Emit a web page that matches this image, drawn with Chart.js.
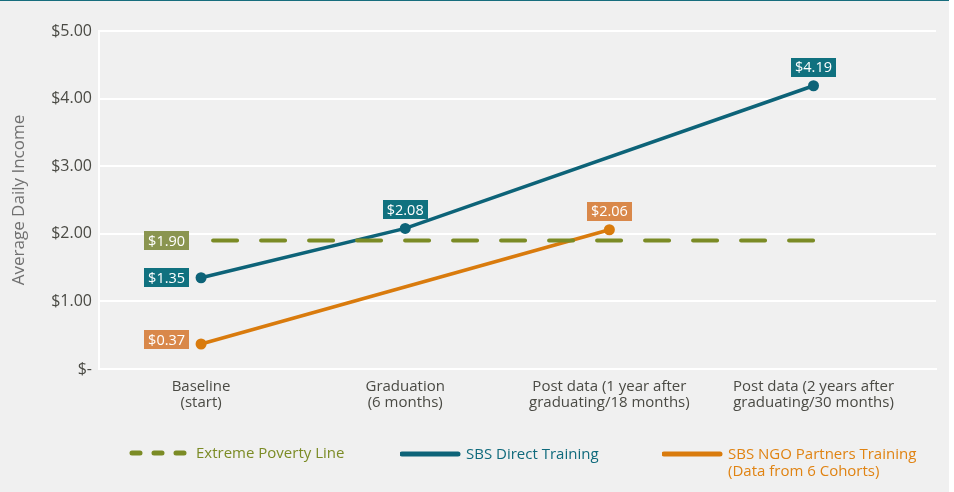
<!DOCTYPE html>
<html>
<head>
<meta charset="utf-8">
<script src="https://cdn.jsdelivr.net/npm/chart.js@4/dist/chart.umd.min.js"></script>
<style>
    html, body { margin: 0; padding: 0; background: #ffffff; }
    #panel {
        position: relative;
        width: 949px;
        height: 491px;
        background: #f0f0f0;
        border-top: 1px solid #176d7d;
        font-family: "Open Sans", sans-serif;
    }
    #chart { position: absolute; left: 0; top: 0; }
    .legend-item { position: absolute; font-size: 15px; line-height: 17px; }
    .legend-item svg { position: absolute; left: 0; top: 3px; }
    .legend-item span { position: absolute; white-space: nowrap; }
</style>
</head>
<body>
<div id="panel">
    <canvas id="chart" width="949" height="491"></canvas>

    <div class="legend-item" style="left:126px; top:443px;">
        <svg width="66" height="12"><line x1="6" y1="6" x2="62" y2="6" stroke="#7b8b25" stroke-width="5" stroke-linecap="round" stroke-dasharray="8 14"/></svg>
        <span style="left:70px; color:#7b8b25;">Extreme Poverty Line</span>
    </div>
    <div class="legend-item" style="left:400px; top:444px;">
        <svg width="62" height="12"><line x1="2" y1="6" x2="58" y2="6" stroke="#0d6378" stroke-width="5" stroke-linecap="round"/></svg>
        <span style="left:66px; color:#0f6a7c;">SBS Direct Training</span>
    </div>
    <div class="legend-item" style="left:662px; top:444px;">
        <svg width="62" height="12"><line x1="2" y1="6" x2="58" y2="6" stroke="#d97b0d" stroke-width="5" stroke-linecap="round"/></svg>
        <span style="left:66px; color:#e08312;">SBS NGO Partners Training<br>(Data from 6 Cohorts)</span>
    </div>
</div>

<script>
// Data
const categories = [
    ['Baseline', '(start)'],
    ['Graduation', '(6 months)'],
    ['Post data (1 year after', 'graduating/18 months)'],
    ['Post data (2 years after', 'graduating/30 months)']
];
const povertyLine = [1.90, 1.90, 1.90, 1.90];
const directTraining = [1.35, 2.08, null, 4.19];
const ngoTraining = [0.37, null, 2.06, null];
const yTicks = [0, 1, 2, 3, 4, 5];

// Colours
const COLORS = {
    green: '#7b8b25',
    greenBox: '#8a9550',
    teal: '#0d6378',
    tealBox: '#10717f',
    orange: '#d97b0d',
    orangeBox: '#d9884a',
    text: '#4a4a44'
};

const FONT = '"Open Sans", sans-serif';

// category index -> {x, y}, skipping missing values
function toPoints(values) {
    return values
        .map((v, i) => (v === null ? null : { x: i, y: v }))
        .filter(Boolean);
}

// Value labels in coloured boxes
const valueBoxes = {
    id: 'valueBoxes',
    afterDatasetsDraw(chart) {
        const ctx = chart.ctx;
        ctx.save();
        ctx.font = '14.5px ' + FONT;
        ctx.textAlign = 'center';
        ctx.textBaseline = 'middle';
        chart.data.datasets.forEach((ds, di) => {
            const meta = chart.getDatasetMeta(di);
            meta.data.forEach((el, i) => {
                const raw = ds.data[i];
                if (!ds.labelAt.includes(raw.x)) return;
                const text = '$' + raw.y.toFixed(2);
                const w = ctx.measureText(text).width + 8;
                const h = 19;
                let cx, cy;
                if (raw.x === 0) {
                    cx = el.x - 12 - w / 2;
                    cy = el.y - (raw.y < 1 ? 4 : 0);
                } else {
                    cx = el.x;
                    cy = el.y - 9 - h / 2;
                }
                ctx.fillStyle = ds.boxColor;
                ctx.fillRect(Math.round(cx - w / 2), Math.round(cy - h / 2), Math.round(w), h);
                ctx.fillStyle = '#ffffff';
                ctx.fillText(text, cx, cy + 1);
            });
        });
        ctx.restore();
    }
};

new Chart(document.getElementById('chart'), {
    type: 'line',
    data: {
        datasets: [
            {
                label: 'Extreme Poverty Line',
                data: toPoints(povertyLine),
                borderColor: COLORS.green,
                borderWidth: 4,
                borderDash: [24, 24],
                borderDashOffset: 36,
                borderCapStyle: 'round',
                pointRadius: 0,
                boxColor: COLORS.greenBox,
                labelAt: [0]
            },
            {
                label: 'SBS Direct Training',
                data: toPoints(directTraining),
                borderColor: COLORS.teal,
                backgroundColor: COLORS.teal,
                borderWidth: 3.5,
                pointRadius: 5.5,
                pointBorderWidth: 0,
                boxColor: COLORS.tealBox,
                labelAt: [0, 1, 3]
            },
            {
                label: 'SBS NGO Partners Training',
                data: toPoints(ngoTraining),
                borderColor: COLORS.orange,
                backgroundColor: COLORS.orange,
                borderWidth: 3.5,
                pointRadius: 5.5,
                pointBorderWidth: 0,
                boxColor: COLORS.orangeBox,
                labelAt: [0, 2]
            }
        ]
    },
    options: {
        responsive: false,
        animation: false,
        layout: { padding: { left: 8, right: 13, top: 30, bottom: 63 } },
        plugins: {
            legend: { display: false },
            tooltip: { enabled: false }
        },
        scales: {
            x: {
                type: 'linear',
                min: -0.5,
                max: 3.6,
                grid: { display: false },
                border: { display: true, color: '#ffffff', width: 2 },
                ticks: {
                    stepSize: 1,
                    includeBounds: false,
                    autoSkip: false,
                    maxRotation: 0,
                    padding: 1,
                    color: COLORS.text,
                    font: { family: FONT, size: 15, lineHeight: 1.1 },
                    callback: (v) => (Number.isInteger(v) && categories[v] ? categories[v] : '')
                },
                afterFit: (scale) => { scale.height = 60; }
            },
            y: {
                min: 0,
                max: 5,
                afterBuildTicks: (scale) => { scale.ticks = yTicks.map(v => ({ value: v })); },
                grid: { color: '#ffffff', lineWidth: 2, drawTicks: false },
                border: { display: true, color: '#ffffff', width: 2 },
                ticks: {
                    padding: 7,
                    color: COLORS.text,
                    font: { family: FONT, size: 16 },
                    callback: (v) => (v === 0 ? '$-' : '$' + v.toFixed(2))
                },
                title: {
                    display: true,
                    text: 'Average Daily Income',
                    color: '#707070',
                    font: { family: FONT, size: 17 },
                    padding: { top: 1, bottom: 0 }
                },
                afterFit: (scale) => { scale.width = 91; }
            }
        }
    },
    plugins: [valueBoxes]
});
</script>
</body>
</html>
